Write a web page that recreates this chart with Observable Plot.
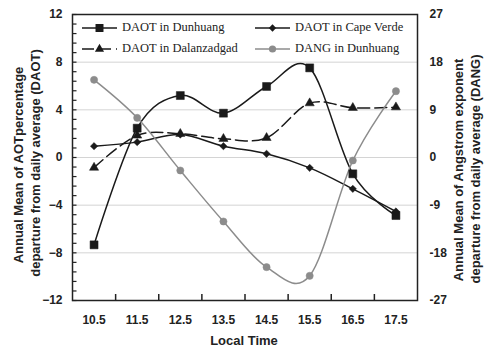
<!DOCTYPE html>
<html><head><meta charset="utf-8">
<script src="https://cdn.jsdelivr.net/npm/d3@7"></script>
<script src="https://cdn.jsdelivr.net/npm/@observablehq/plot@0.6"></script>
<style>
body{margin:0;background:#fff}
#chart{position:relative;width:485px;height:350px}
</style>
</head><body><div id="chart"></div>
<script>
// ---- data ----
const times = [10.5, 11.5, 12.5, 13.5, 14.5, 15.5, 16.5, 17.5];
const daotDunhuang    = [-7.33, 2.46, 5.2, 3.72, 5.96, 7.52, -1.37, -4.87];
const daotCapeVerde   = [0.95, 1.29, 1.93, 0.95, 0.31, -0.87, -2.63, -4.53];
const daotDalanzadgad = [-0.85, 1.85, 1.99, 1.57, 1.65, 4.56, 4.17, 4.22];
const dangDunhuang    = [14.66, 7.49, -2.45, -12.08, -20.7, -22.34, -0.57, 12.52];
const leftTicks  = [-12, -8, -4, 0, 4, 8, 12];
const rightTicks = [-27, -18, -9, 0, 9, 18, 27];
const xTickMarks = [11, 12, 13, 14, 15, 16, 17];
const seriesNames = ["DAOT in Dunhuang", "DAOT in Cape Verde", "DAOT in Dalanzadgad", "DANG in Dunhuang"];

const ratio = 12 / 27; // right axis -> left axis
const minorTicks = d3.range(0, 31).map(i => -12 + i * 0.8);
const xDomain = [10, 18], yDomain = [-12, 12];

const W = 485, H = 350, ML = 72, MR = 68, MT = 14, MB = 50;
// tick lengths expressed in scale units (~4.5 px and ~6 px)
const yTickLen = 4.5 * (xDomain[1] - xDomain[0]) / (W - ML - MR);
const xTickLen = 6 * (yDomain[1] - yDomain[0]) / (H - MT - MB);

const series = [
  {name: seriesNames[0], values: daotDunhuang, scale: 1, stroke: "#1a1a1a", fill: "#1a1a1a", symbol: "square", r: 4.5, dash: null},
  {name: seriesNames[1], values: daotCapeVerde, scale: 1, stroke: "#1a1a1a", fill: "#1a1a1a", symbol: "diamond2", r: 3.3, dash: null},
  {name: seriesNames[2], values: daotDalanzadgad, scale: 1, stroke: "#1a1a1a", fill: "#1a1a1a", symbol: "triangle", r: 3.4, dash: "12,5"},
  {name: seriesNames[3], values: dangDunhuang, scale: ratio, stroke: "#8c8c8c", fill: "#8c8c8c", symbol: "circle", r: 3.6, dash: null}
];

const lineMarks = [];
for (const s of series) {
  const rows = times.map((t, i) => ({t, v: s.values[i] * s.scale}));
  lineMarks.push(Plot.line(rows, {x: "t", y: "v", stroke: s.stroke, strokeWidth: 1.5, curve: "cardinal", strokeDasharray: s.dash}));
}
for (const s of series) {
  const rows = times.map((t, i) => ({t, v: s.values[i] * s.scale}));
  lineMarks.push(Plot.dot(rows, {x: "t", y: "v", symbol: () => s.symbol, fill: s.fill, stroke: s.fill, strokeWidth: 0.5, r: s.r}));
}

const plot = Plot.plot({
  width: W, height: H,
  marginLeft: ML, marginRight: MR, marginTop: MT, marginBottom: MB,
  style: {fontFamily: "'Liberation Sans', Arial, sans-serif", fontSize: "12px", fontWeight: "bold", color: "#222", background: "#fff"},
  x: {domain: xDomain},
  y: {domain: yDomain},
  symbol: {type: "identity"},
  marks: [
    Plot.gridY(leftTicks.slice(1, -1), {stroke: "#d4d4d4", strokeOpacity: 1}),
    Plot.axisY({anchor: "left", ticks: leftTicks, tickSize: 0, tickPadding: 10, label: null}),
    Plot.axisY({anchor: "right", ticks: rightTicks.map(v => v * ratio), tickSize: 0, tickPadding: 12, textAnchor: "start", tickFormat: d => String(Math.round(d / ratio)), label: null}),
    Plot.axisX({ticks: times, tickSize: 0, tickPadding: 15, tickFormat: d => d.toFixed(1), label: null}),
    Plot.ruleY(minorTicks, {y: d => d, x1: xDomain[0], x2: xDomain[0] + yTickLen, stroke: "#222", strokeWidth: 1.2}),
    Plot.ruleX(xTickMarks, {x: d => d, y1: yDomain[0], y2: yDomain[0] + xTickLen, stroke: "#222", strokeWidth: 1.5}),
    ...lineMarks,
    Plot.frame({stroke: "#222", strokeWidth: 1.5})
  ]
});
document.getElementById("chart").appendChild(plot);

const svg = d3.select(plot);

// ---- titles and legend ----
const titleFont = "'Liberation Sans', Arial, sans-serif";
function vtext(x, y, txt) {
  svg.append("text").attr("transform", `translate(${x},${y}) rotate(-90)`)
    .attr("text-anchor", "middle").attr("dominant-baseline", "middle")
    .style("font", `bold 13px ${titleFont}`).attr("fill", "#222").text(txt);
}
vtext(20, 165, "Annual Mean of AOTpercentage");
vtext(37, 163, "departure from daily average (DAOT)");
vtext(460, 170, "Annual Mean of Angstrom exponent");
vtext(477, 169, "departure from daily average (DANG)");
svg.append("text").attr("x", 244).attr("y", 342).attr("text-anchor", "middle")
  .attr("dominant-baseline", "middle").style("font", `bold 13px ${titleFont}`).attr("fill", "#222").text("Local Time");

const legendPos = [[82, 28], [255, 28], [82, 49], [255, 49]];
const symMap = {square: d3.symbolSquare, diamond2: d3.symbolDiamond2, triangle: d3.symbolTriangle, circle: d3.symbolCircle};
series.forEach((s, i) => {
  const [x0, y0] = legendPos[i];
  const g = svg.append("g");
  g.append("line").attr("x1", x0).attr("x2", x0 + 35).attr("y1", y0).attr("y2", y0)
    .style("stroke", s.stroke).style("stroke-width", "1.5px").attr("stroke-dasharray", s.dash);
  g.append("path").attr("d", d3.symbol(symMap[s.symbol], Math.PI * s.r * s.r)())
    .attr("transform", `translate(${x0 + 17.5},${y0})`).attr("fill", s.fill);
  g.append("text").attr("x", x0 + 40).attr("y", y0).attr("dominant-baseline", "middle")
    .attr("text-anchor", "start")
    .style("font", "12.5px 'Liberation Serif', 'Times New Roman', serif").attr("fill", "#222").text(s.name);
});
</script>
</body></html>
